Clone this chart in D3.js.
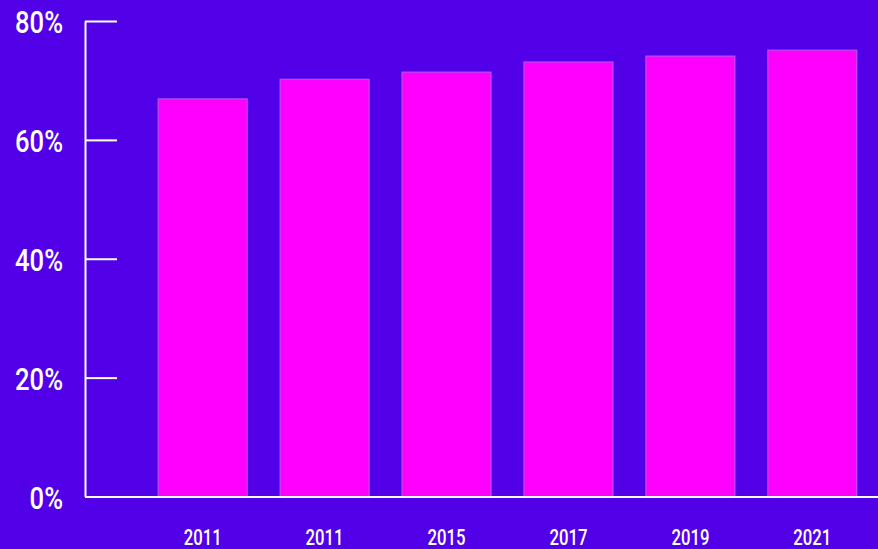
<!DOCTYPE html>
<html>
<head>
<meta charset="utf-8">
<script src="https://cdn.jsdelivr.net/npm/d3@7"></script>
<style>
  html, body { margin: 0; padding: 0; background: #5200e8; overflow: hidden; }
  svg { display: block; }
  text { font-family: Roboto, "Liberation Sans", sans-serif; font-weight: 500; fill: #fff; }
</style>
</head>
<body>
<svg id="chart" width="878" height="549"></svg>
<script>
// data
const years = ["2011", "2011", "2015", "2017", "2019", "2021"];
const shares = [66.9, 70.2, 71.4, 73.1, 74.1, 75.1];
const yTicks = [0, 20, 40, 60, 80];

const svg = d3.select("#chart");
const width = 878, height = 549;
const squeeze = 0.8; // condensed look, the narrow display font is not installed

svg.append("rect").attr("width", width).attr("height", height).attr("fill", "#5200e8");

const x = d3.scaleBand()
    .domain(d3.range(years.length))
    .range([85, 930])
    .paddingInner(0.27)
    .paddingOuter(0.6);

const y = d3.scaleLinear().domain([0, 80]).range([496.5, 21]);

// bars
svg.selectAll("rect.bar")
    .data(shares)
    .enter().append("rect")
    .attr("class", "bar")
    .attr("x", (d, i) => x(i))
    .attr("y", d => y(d))
    .attr("width", x.bandwidth())
    .attr("height", d => y(0) - y(d))
    .attr("fill", "#ff00ff")
    .attr("stroke", "#b45cff")
    .attr("stroke-width", 1);

// y axis: line with ticks pointing inward, labels on the left
const yAxis = svg.append("g").attr("transform", "translate(85,0)")
    .call(d3.axisRight(y).tickValues(yTicks).tickSize(32).tickSizeOuter(0).tickFormat(d => d + "%"));
yAxis.select(".domain").attr("stroke", "#fff").attr("stroke-width", 2);
yAxis.selectAll(".tick line").attr("stroke", "#fff").attr("stroke-width", 2);
yAxis.selectAll(".tick text")
    .attr("transform", `scale(${squeeze},1)`)
    .attr("x", -22 / squeeze)
    .attr("dy", "0.36em")
    .attr("text-anchor", "end")
    .style("font-size", "32px")
    .style("fill", "#fff");

// x axis baseline and labels
const xAxis = svg.append("g").attr("transform", `translate(0,${y(0)})`)
    .call(d3.axisBottom(x).tickSize(0).tickSizeOuter(0).tickFormat(i => years[i]));
xAxis.select(".domain").attr("stroke", "#fff").attr("stroke-width", 2);
xAxis.selectAll(".tick text")
    .attr("transform", `scale(${squeeze * 0.95},1)`)
    .attr("y", 49)
    .attr("dy", 0)
    .style("font-size", "22px")
    .style("fill", "#fff");
</script>
</body>
</html>
